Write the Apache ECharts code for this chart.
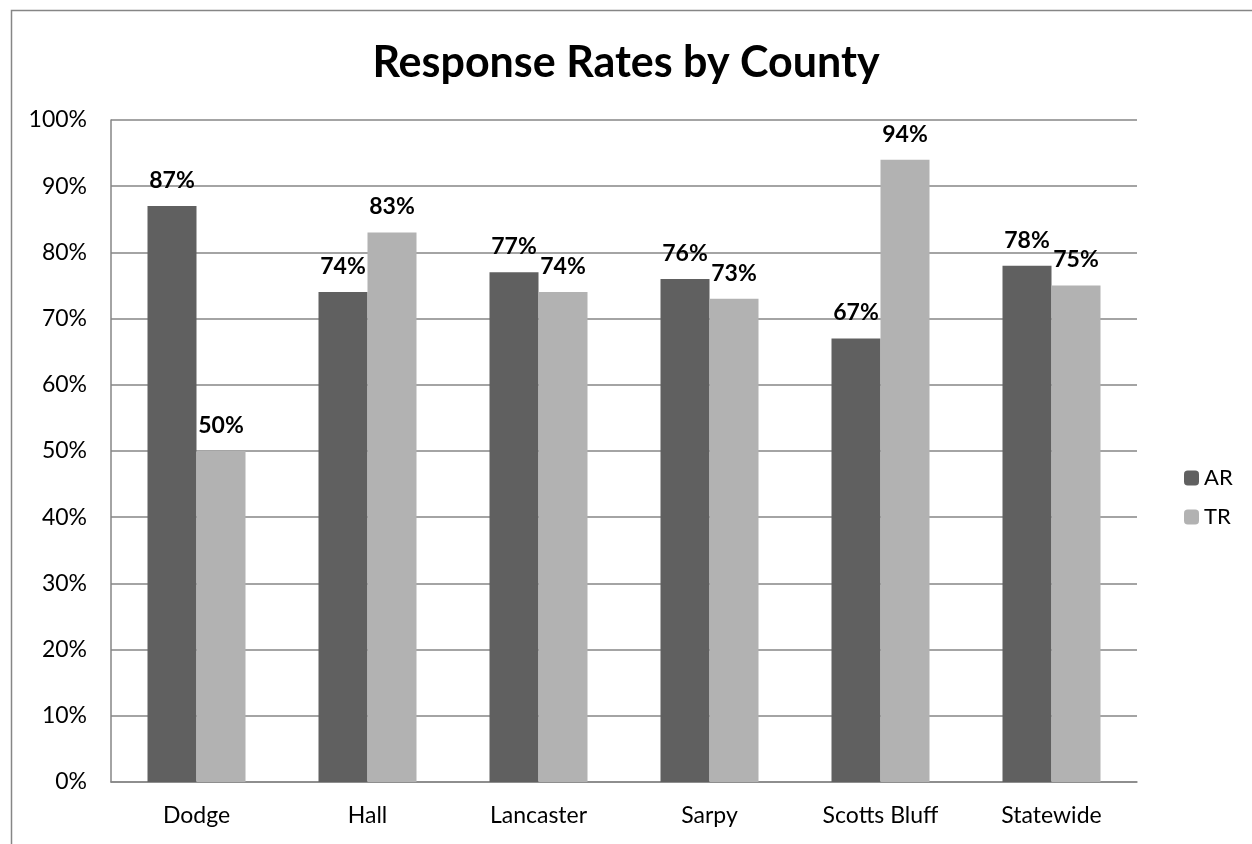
<!DOCTYPE html>
<html><head><meta charset="utf-8">
<script src="https://cdn.jsdelivr.net/npm/echarts@6/dist/echarts.min.js"></script>
<style>html,body{margin:0;padding:0;background:#fff}#c{width:1252px;height:844px}</style>
</head><body><div id="c"></div>
<script>
const categories = ["Dodge", "Hall", "Lancaster", "Sarpy", "Scotts Bluff", "Statewide"];
const arValues = [87, 74, 77, 76, 67, 78];
const trValues = [50, 83, 74, 73, 94, 75];
const seriesNames = ["AR", "TR"];
const FONT = "Lato, 'Open Sans', sans-serif";
const chart = echarts.init(document.getElementById('c'), null, {renderer: 'canvas'});
const labelCfg = {show: true, position: 'top', distance: 14, formatter: '{c}%', fontFamily: FONT, fontWeight: 'bold', fontSize: 23, color: '#000'};
chart.setOption({
  animation: false,
  backgroundColor: '#fff',
  title: {text: 'Response Rates by County', left: 'center', top: 37, textStyle: {fontFamily: FONT, fontWeight: 'bold', fontSize: 43, color: '#000'}},
  graphic: [{type: 'rect', left: 9, top: 8, shape: {width: 1400, height: 1000}, style: {fill: 'none', stroke: '#868686', lineWidth: 1.5}, silent: true}],
  grid: {left: 111, right: 115, top: 120, bottom: 62, containLabel: false},
  legend: {orient: 'vertical', left: 1179, top: 462, itemWidth: 15, itemHeight: 15, itemGap: 17, data: seriesNames, textStyle: {fontFamily: FONT, fontSize: 22, color: '#000'}},
  xAxis: {type: 'category', data: categories, axisLine: {lineStyle: {color: '#868686', width: 1.5}}, axisTick: {show: false},
    axisLabel: {fontFamily: FONT, fontSize: 23, color: '#000', margin: 22}},
  yAxis: {type: 'value', min: 0, max: 100, interval: 10, axisLine: {show: true, lineStyle: {color: '#868686', width: 1.5}}, axisTick: {show: false},
    splitLine: {lineStyle: {color: '#868686', width: 1.5}},
    axisLabel: {formatter: '{value}%', fontFamily: FONT, fontSize: 23, color: '#000', margin: 24}},
  series: [
    {name: seriesNames[0], type: 'bar', data: arValues, barWidth: 49, barGap: '0%', itemStyle: {color: '#606060'}, label: labelCfg},
    {name: seriesNames[1], type: 'bar', data: trValues, barWidth: 49, barGap: '0%', itemStyle: {color: '#b2b2b2'}, label: labelCfg}
  ]
});
</script></body></html>
